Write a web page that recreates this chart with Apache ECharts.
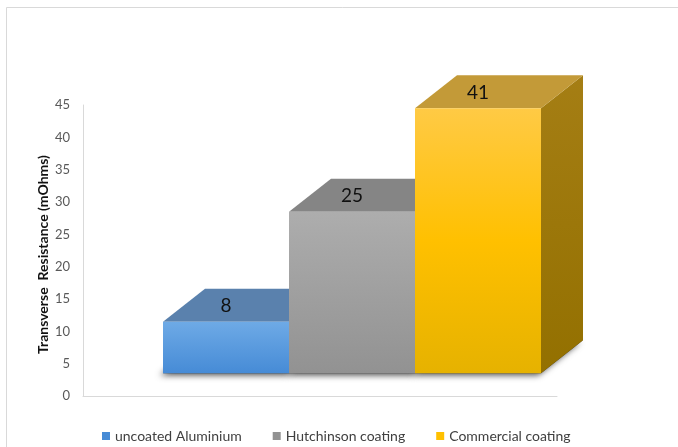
<!DOCTYPE html>
<html>
<head>
<meta charset="utf-8">
<script src="https://cdn.jsdelivr.net/npm/echarts@6/dist/echarts.min.js"></script>
<style>html,body{margin:0;padding:0;background:#fff;}#c{width:678px;height:447px;}</style>
</head>
<body>
<div id="c"></div>
<script>
var categories = ['uncoated Aluminium', 'Hutchinson coating', 'Commercial coating'];
var values = [8, 25, 41];
var yTicks = [0, 5, 10, 15, 20, 25, 30, 35, 40, 45];
var axisTitle = 'Transverse  Resistance (mOhms)';

var palettes = [
  { front: ['#6eaae6', '#468bd6'], top: '#5a81ad', side: ['#3f6c9f', '#365f8e'] },
  { front: ['#adadad', '#929292'], top: '#858585', side: ['#707070', '#626262'] },
  { front: ['#ffca45', '#ffc000', '#e6b200'], top: '#c39a38', side: ['#a57e14', '#937000'] }
];
var DX = 42, DY = -33;

function grad(colors, horiz) {
  var stops = colors.map(function (c, k) { return { offset: colors.length === 1 ? 0 : k / (colors.length - 1), color: c }; });
  return new echarts.graphic.LinearGradient(0, 0, horiz ? 1 : 0, horiz ? 0 : 1, stops);
}

function geom(api) {
  var i = api.value(0), v = api.value(1);
  var p0 = api.coord([i, 0]);
  var p1 = api.coord([i, v]);
  var w = api.size([1, 0])[0];
  return { x0: p0[0] - w / 2, x1: p0[0] + w / 2, yb: p0[1], yt: p1[1], v: v };
}

function makeRender(k) {
  return function (params, api) {
    var g = geom(api), pal = palettes[k];
    return {
      type: 'group',
      children: [
        { type: 'polygon', shape: { points: [[g.x1, g.yt], [g.x1 + DX, g.yt + DY], [g.x1 + DX, g.yb + DY], [g.x1, g.yb]] },
          style: { fill: grad(pal.side, false) } },
        { type: 'polygon', shape: { points: [[g.x0, g.yt], [g.x0 + DX, g.yt + DY], [g.x1 + DX, g.yt + DY], [g.x1, g.yt]] },
          style: { fill: pal.top } },
        { type: 'rect', shape: { x: g.x0, y: g.yt, width: g.x1 - g.x0, height: g.yb - g.yt },
          style: { fill: grad(pal.front, false) } },
        { type: 'text', x: (g.x0 + g.x1) / 2, y: g.yt + DY / 2 + 1,
          style: { text: String(g.v), fill: '#111', font: '19px Lato', align: 'center', verticalAlign: 'middle' } }
      ]
    };
  };
}

function shadowRender(params, api) {
  var g = geom(api);
  return {
    type: 'polygon',
    shape: { points: [[g.x0, g.yb], [g.x1, g.yb], [g.x1 + DX, g.yb + DY], [g.x0 + DX, g.yb + DY]] },
    style: { fill: '#333', shadowBlur: 6, shadowColor: 'rgba(0,0,0,0.7)', shadowOffsetX: -3, shadowOffsetY: 2 }
  };
}

var series = categories.map(function (name, k) {
  return {
    name: name, type: 'custom', xAxisIndex: 1, yAxisIndex: 1, z: 3,
    itemStyle: { color: palettes[k].front[1] },
    renderItem: makeRender(k),
    data: [[k, values[k]]]
  };
});
series.unshift({
  name: 'shadow', type: 'custom', xAxisIndex: 1, yAxisIndex: 1, z: 2, silent: true,
  renderItem: shadowRender,
  data: values.map(function (v, k) { return [k, v]; })
});

var chart = echarts.init(document.getElementById('c'), null, { renderer: 'canvas' });
chart.setOption({
  animation: false,
  backgroundColor: '#fff',
  graphic: [{ type: 'rect', shape: { x: 6.5, y: 7.5, width: 720, height: 500 }, style: { fill: 'none', stroke: '#d9d9d9', lineWidth: 1 }, z: 0 }],
  grid: [
    { left: 83, top: 105, width: 474, height: 291 },
    { left: 163, top: 105, width: 378, height: 291 }
  ],
  xAxis: [
    { gridIndex: 0, type: 'value', min: 0, max: 1, axisLine: { show: true, onZero: false, lineStyle: { color: '#d9d9d9' } },
      axisTick: { show: false }, axisLabel: { show: false }, splitLine: { show: false } },
    { gridIndex: 1, type: 'category', data: categories, show: false }
  ],
  yAxis: [
    { gridIndex: 0, type: 'value', min: yTicks[0], max: yTicks[yTicks.length - 1], interval: 5,
      axisLine: { show: true, lineStyle: { color: '#d9d9d9' } }, axisTick: { show: false }, splitLine: { show: false },
      axisLabel: { color: '#595959', fontSize: 13, fontFamily: 'Lato', margin: 13 },
      name: axisTitle, nameLocation: 'middle', nameRotate: 90, nameGap: 33, nameMoveOverlap: false,
      nameTextStyle: { fontFamily: 'Lato', fontWeight: 'bold', fontSize: 14, color: '#111', padding: [0, 8, 0, 0] } },
    { gridIndex: 1, type: 'value', min: -3.5, max: 41.5, show: false }
  ],
  legend: {
    data: categories, left: 97, top: 424, icon: 'rect', itemWidth: 8, itemHeight: 8, itemGap: 31,
    textStyle: { color: '#404040', fontSize: 14, fontFamily: 'Lato' }
  },
  series: series
});
</script>
</body>
</html>
